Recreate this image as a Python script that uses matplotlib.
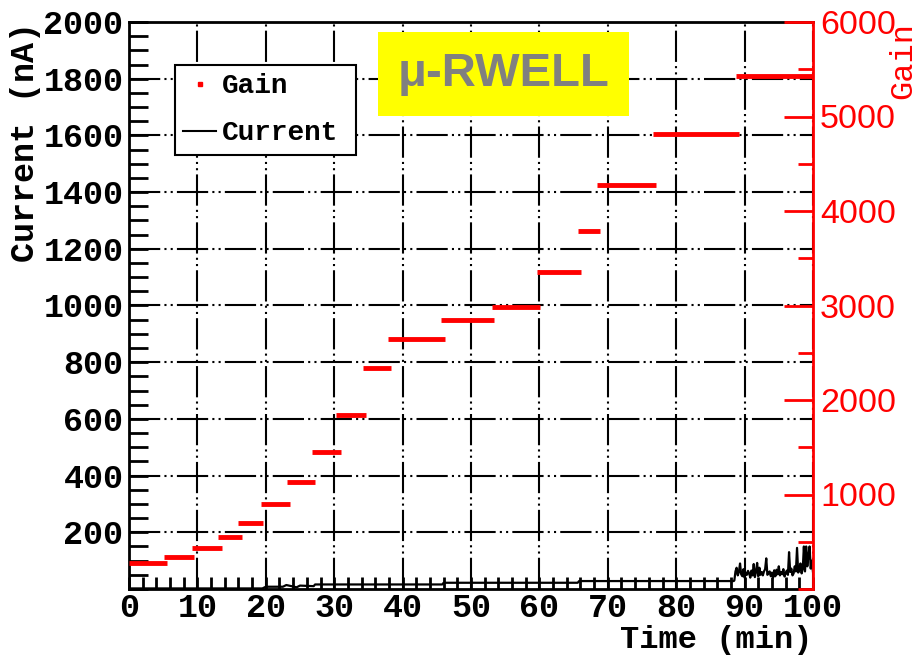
import numpy as np
import matplotlib
matplotlib.use("Agg")
import matplotlib.pyplot as plt
from matplotlib.lines import Line2D
from matplotlib.ticker import MultipleLocator

# gain steps (start min, end min, gain)
gain_start = [0.0, 5.1, 9.2, 13.0, 16.0, 19.3, 23.1, 26.8, 30.2, 34.2, 37.8, 45.6, 53.0, 59.7, 65.6, 68.4, 76.6, 88.7]
gain_end = [5.5, 9.5, 13.6, 16.5, 19.6, 23.5, 27.2, 31.0, 34.6, 38.3, 46.2, 53.4, 60.1, 66.1, 68.9, 77.0, 89.2, 100.0]
gain_level = [275, 340, 431, 550, 702, 900, 1135, 1447, 1841, 2342, 2642, 2847, 2986, 3358, 3792, 4275, 4818, 5429]

# current baseline before the noisy part
cur_time = [0.0, 19.5, 20.0, 22.5, 23.0, 24.5, 25.0, 27.0, 27.2, 45.8, 46.0, 65.6, 65.8, 88.4]
cur_val = [2, 2, 8, 8, 14, 6, 12, 10, 16, 16, 22, 22, 28, 28]

# noisy current at the end of the run
noise_val = [30, 62, 75, 48, 60, 90, 52, 45, 70, 40, 58, 50, 64, 55, 40,
             65, 48, 88, 42, 60, 92, 45, 75, 50, 60, 48, 62, 70, 108, 50,
             55, 62, 45, 58, 40, 66, 45, 68, 52, 80, 48, 60, 52, 70, 44,
             55, 65, 50, 130, 60, 72, 48, 55, 80, 62, 145, 58, 65, 90, 55,
             70, 150, 62, 150, 80, 120, 150, 72, 100, 60]
noise_time = np.linspace(88.5, 100.0, len(noise_val))

mono = "Liberation Mono"
sans = "Liberation Sans"

fig = plt.figure(figsize=(9.19, 6.55), dpi=100)
ax = fig.add_axes([129/919, 1-589/655, 684/919, 567/655])
ax2 = ax.twinx()

t_all = list(cur_time) + list(noise_time)
c_all = list(cur_val) + list(noise_val)
ax.plot(t_all, c_all, color="black", lw=1.6, zorder=3)

ax.set_xlim(0, 100)
ax.set_ylim(0, 2000)
ax2.set_ylim(0, 6000)

ax2.hlines(gain_level, gain_start, gain_end, color="red", lw=3.5, zorder=4)

# axis ticks
ax.set_xticks(range(0, 101, 10))
ax.xaxis.set_minor_locator(MultipleLocator(2))
ax.set_yticks(range(200, 2001, 200))
ax.yaxis.set_minor_locator(MultipleLocator(50))
ax.tick_params(axis="both", which="both", direction="in", width=2, color="black")
ax.tick_params(axis="x", which="major", length=9, pad=3)
ax.tick_params(axis="x", which="minor", length=9)
ax.tick_params(axis="y", which="major", length=14, pad=4)
ax.tick_params(axis="y", which="minor", length=14)
ax.tick_params(right=False, top=False, which="both")
for lab in ax.get_xticklabels() + ax.get_yticklabels():
    lab.set_fontfamily(mono)
    lab.set_fontweight("bold")
    lab.set_fontsize(24)

ax2.set_yticks(range(1000, 6001, 1000))
ax2.yaxis.set_minor_locator(MultipleLocator(500))
ax2.tick_params(axis="y", which="both", direction="in", colors="red", width=2, pad=5)
ax2.tick_params(axis="y", which="major", length=21)
ax2.tick_params(axis="y", which="minor", length=11)
for lab in ax2.get_yticklabels():
    lab.set_fontfamily(sans)
    lab.set_fontsize(24.5)

for s in ["left", "bottom", "top"]:
    ax.spines[s].set_linewidth(2)
ax.spines["right"].set_visible(False)
ax2.spines["right"].set_color("red")
ax2.spines["right"].set_linewidth(2)
for s in ["left", "bottom", "top"]:
    ax2.spines[s].set_visible(False)

ax.grid(True, which="major", color="black", lw=1.5, dashes=(15, 2, 1, 2, 1, 2))

ax.set_xlabel("Time (min)", loc="right", fontfamily=mono, fontweight="bold", fontsize=23)
ax.xaxis.set_label_coords(1.0, -0.064)
ax.set_ylabel("Current (nA)", loc="top", fontfamily=mono, fontweight="bold", fontsize=24)
ax.yaxis.set_label_coords(-0.128, 1.0)
ax2.set_ylabel("Gain", loc="top", fontfamily=mono, fontsize=23, color="red")
ax2.yaxis.set_label_coords(1.11, 1.0)

handles = [Line2D([], [], color="red", marker="s", markersize=3, linestyle="None"),
           Line2D([], [], color="black", lw=1.5)]
leg = ax2.legend(handles, ["Gain", "Current"], loc="upper left",
                 bbox_to_anchor=(0.067, 0.767, 0.265, 0.157), mode="expand",
                 borderaxespad=0, frameon=True,
                 fancybox=False, handlelength=1.2, handletextpad=0.2,
                 prop={"family": mono, "weight": "bold", "size": 20},
                 labelspacing=0.75, borderpad=0.3)
leg.get_frame().set_edgecolor("black")
leg.get_frame().set_linewidth(1.5)
leg.get_frame().set_alpha(1)
leg.set_zorder(10)

ax2.text(0.5475, 0.908, "\u03bc-RWELL", transform=ax2.transAxes, ha="center", va="center",
         fontfamily=sans, fontweight="bold", fontsize=34, color="#808080",
         bbox=dict(boxstyle="square,pad=0.42", facecolor="#ffff00", edgecolor="none"),
         zorder=11)

fig.savefig("out.png", dpi=100)
